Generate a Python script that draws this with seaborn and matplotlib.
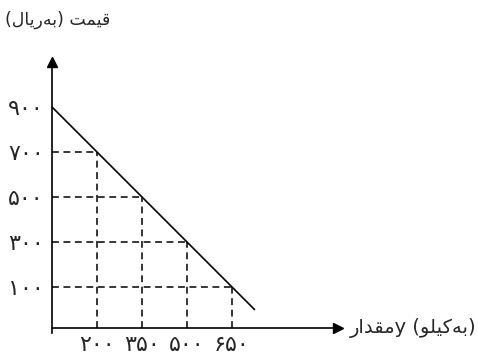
import matplotlib
matplotlib.use("Agg")
import matplotlib.pyplot as plt
import seaborn as sns
import pandas as pd

# ---- data ----
line_x = [50, 725]            # demand line endpoints (quantity)
line_y = [900, 0]             # price
point_x = [200, 350, 500, 650]
point_y = [700, 500, 300, 100]
x_tick_vals = [200, 350, 500, 650]
x_tick_labels = ["\u06F2\u06F0\u06F0", "\u06F3\u06F5\u06F0", "\u06F5\u06F0\u06F0", "\u06F6\u06F5\u06F0"]
y_tick_vals = [900, 700, 500, 300, 100]
y_tick_labels = ["\u06F9\u06F0\u06F0", "\u06F7\u06F0\u06F0", "\u06F5\u06F0\u06F0", "\u06F3\u06F0\u06F0", "\u06F1\u06F0\u06F0"]
# axis titles (Arabic presentation forms, visual order)
price_label = "(\uFEDD\uFE8E\uFEF3\uFEAD\uFEEA\uFE91) \uFE96\uFEE4\uFEF4\uFED7"       # قیمت (به‌ریال)
qty_label = "\uFEAD\uFE8D\uFEAA\uFED8\uFEE3y (\uFEEE\uFEE0\uFEF4\uFB90\uFEEA\uFE91)"  # مقدار y (به‌کیلو)

sns.set_style("white")
plt.rcParams["font.family"] = ["DejaVu Sans"]

fig = plt.figure(figsize=(4.78, 3.55), dpi=100)
W, H = 478, 355
# axes in pixel coords: left=52, right=338, top=62, bottom=328
ax = fig.add_axes([52 / W, 1 - 328 / H, (338 - 52) / W, (328 - 62) / H])
ax.set_xlim(50, 50 + (338 - 52) / 0.3)
ax.set_ylim(900 - (328 - 107) / 0.225, 900 + (107 - 62) / 0.225)

df = pd.DataFrame({"q": line_x, "p": line_y})
sns.lineplot(data=df, x="q", y="p", ax=ax, color="black", lw=1.2)

dash = (0, (4.5, 3))
ax.hlines(point_y, 50, point_x, colors="black", linestyles=dash, lw=1.1)
ax.vlines(point_x, ax.get_ylim()[0], point_y, colors="black", linestyles=dash, lw=1.1)

for s in ["top", "right"]:
    ax.spines[s].set_visible(False)
for s in ["left", "bottom"]:
    ax.spines[s].set_color("black")
    ax.spines[s].set_linewidth(1.2)
ax.spines["left"].set_bounds(ax.get_ylim()[0] - 20, ax.get_ylim()[1])

ax.plot(1, 0, ">k", ms=7, transform=ax.transAxes, clip_on=False)
ax.plot(0, 1, "^k", ms=7, transform=ax.transAxes, clip_on=False)

ax.set_xticks(x_tick_vals)
ax.set_xticklabels(x_tick_labels, fontsize=16)
ax.set_yticks(y_tick_vals)
ax.set_yticklabels(y_tick_labels, fontsize=16)
ax.tick_params(axis="both", direction="inout", length=6, width=1.1, color="black", pad=3)
ax.tick_params(axis="x", pad=2)
ax.set_xlabel("")
ax.set_ylabel("")

fig.text(5 / W, 1 - 20 / H, price_label, fontsize=12.5, ha="left", va="center")
fig.text(350 / W, 1 - 328 / H, qty_label, fontsize=14, ha="left", va="center")

fig.savefig("out.png", dpi=100)
